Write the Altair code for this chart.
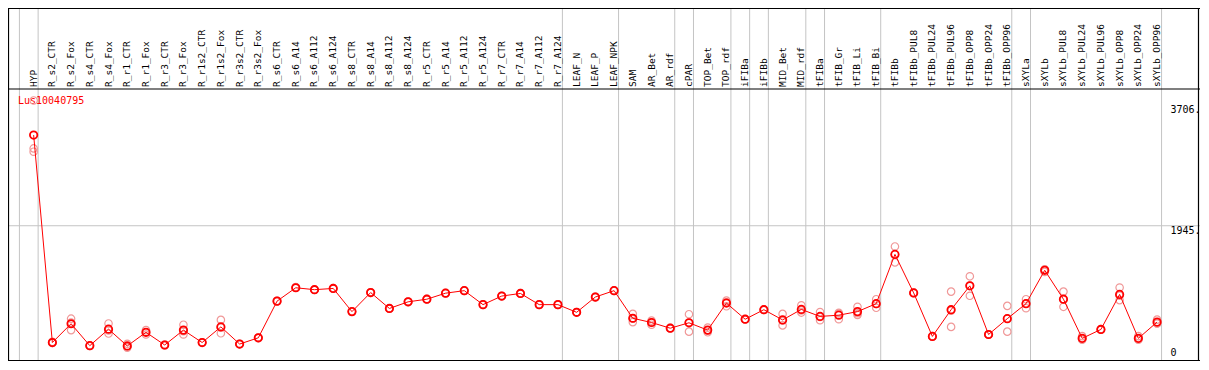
import altair as alt
import pandas as pd

# ---------------- data ----------------
gene = "Lus10040795"

names = [
    "HYP", "R_s2_CTR", "R_s2_Fox", "R_s4_CTR", "R_s4_Fox", "R_r1_CTR", "R_r1_Fox",
    "R_r3_CTR", "R_r3_Fox", "R_r1s2_CTR", "R_r1s2_Fox", "R_r3s2_CTR", "R_r3s2_Fox",
    "R_s6_CTR", "R_s6_A14", "R_s6_A112", "R_s6_A124", "R_s8_CTR", "R_s8_A14",
    "R_s8_A112", "R_s8_A124", "R_r5_CTR", "R_r5_A14", "R_r5_A112", "R_r5_A124",
    "R_r7_CTR", "R_r7_A14", "R_r7_A112", "R_r7_A124", "LEAF_N", "LEAF_P", "LEAF_NPK",
    "SAM", "AR_Bet", "AR_rdf", "cPAR", "TOP_Bet", "TOP_rdf", "iFIBa", "iFIBb",
    "MID_Bet", "MID_rdf", "tFIBa", "tFIB_Gr", "tFIB_Li", "tFIB_Bi", "tFIBb",
    "tFIBb_PUL8", "tFIBb_PUL24", "tFIBb_PUL96", "tFIBb_OPP8", "tFIBb_OPP24",
    "tFIBb_OPP96", "sXYLa", "sXYLb", "sXYLb_PUL8", "sXYLb_PUL24", "sXYLb_PUL96",
    "sXYLb_OPP8", "sXYLb_OPP24", "sXYLb_OPP96",
]

means = [
    3268, 241, 515, 195, 436, 191, 390, 205, 422, 241, 469, 219, 310,
    845, 1040, 1012, 1030, 692, 970, 738, 835, 873, 961, 998, 794,
    919, 957, 794, 794, 682, 905, 998,
    595, 533, 450, 529, 422, 817, 581, 720, 571, 724, 622, 640, 692, 808,
    1527, 965, 330, 720, 1068, 358, 589, 808, 1295, 873, 302, 432, 943, 302, 539,
]

rep1 = [
    3773, 250, 589, 190, 519, 223, 422, 210, 501, 245, 571, 222, 315,
    850, 1050, 1015, 1035, 695, 975, 742, 840, 878, 965, 1002, 798,
    923, 962, 798, 798, 686, 910, 1002,
    659, 561, 455, 654, 459, 853, 585, 724, 659, 784, 686, 664, 762, 873,
    1643, 970, 335, 984, 1207, 362, 776, 873, 1310, 984, 334, 436, 1044, 334, 575,
]
rep2 = [
    3073, 235, 534, 200, 417, 183, 390, 200, 407, 238, 460, 216, 305,
    840, 1040, 1010, 1025, 690, 965, 735, 830, 868, 958, 995, 790,
    915, 952, 790, 790, 678, 900, 994,
    587, 537, 445, 533, 417, 828, 577, 716, 563, 710, 613, 675, 669, 803,
    1528, 960, 325, 707, 1074, 354, 591, 809, 1271, 873, 288, 428, 926, 290, 521,
]
rep3 = [
    3025, 238, 422, 195, 372, 167, 358, 205, 358, 240, 376, 219, 310,
    845, 1042, 1011, 1030, 691, 970, 737, 835, 873, 960, 997, 794,
    919, 957, 794, 794, 682, 905, 998,
    539, 501, 450, 400, 390, 770, 581, 720, 491, 678, 567, 581, 645, 748,
    1410, 965, 330, 469, 923, 358, 400, 742, 1304, 762, 284, 432, 859, 282, 521,
]

# last column index of each group (vertical separators drawn just after them)
group_ends = [-1, 0, 28, 31, 34, 35, 37, 38, 39, 41, 42, 45, 52, 53, 60]

axis_values = [0, 1945, 3706]
axis_labels = ["0", "1945.", "3706."]
grid_values = [1945]

# ---------------- layout ----------------
W, H = 1192, 353
PAD_L, PAD_T, PAD_R, PAD_B = 1, 81, 38, 1
PW = W - PAD_L - PAD_R
PH = H - PAD_T - PAD_B

FONT = "DejaVu Sans Mono"
RED = "#ff0000"
REP = "#f09898"
GRID = "#c4c4c4"

xscale = alt.Scale(domain=[-1.316, 60.263], nice=False, zero=False)
yscale = alt.Scale(domain=[-13.9, 3940], nice=False, zero=False)

idx = list(range(len(names)))
df_mean = pd.DataFrame({"idx": idx, "name": names, "value": means})
df_rep = pd.DataFrame({
    "idx": idx * 3,
    "value": rep1 + rep2 + rep3,
})
df_sep = pd.DataFrame({"idx": [g + 0.24 for g in group_ends]})
df_grid = pd.DataFrame({"value": grid_values})
df_axis = pd.DataFrame({"value": axis_values, "label": axis_labels})
df_one = pd.DataFrame({"t": [gene]})

X = lambda f="idx": alt.X(f"{f}:Q", scale=xscale, axis=None)
Y = lambda f="value": alt.Y(f"{f}:Q", scale=yscale, axis=None)

sep = alt.Chart(df_sep).mark_rule(color=GRID, strokeWidth=1).encode(
    x=X(), y=alt.value(-PAD_T), y2=alt.value(PH + PAD_B)
)
hgrid = alt.Chart(df_grid).mark_rule(color=GRID, strokeWidth=1).encode(
    y=Y(), x=alt.value(-PAD_L), x2=alt.value(PW + PAD_R)
)

# frame lines
frame = []
for xv, x2v, yv, y2v in [
    (-PAD_L, PW + PAD_R, -PAD_T + 0.5, -PAD_T + 0.5),   # top
    (-PAD_L, PW + PAD_R, 0, 0),                         # under labels
    (-PAD_L, PW + PAD_R, PH + 0.5, PH + 0.5),           # bottom
    (-PAD_L + 0.5, -PAD_L + 0.5, -PAD_T, PH + PAD_B),   # left
    (PW + PAD_R - 1.5, PW + PAD_R - 1.5, -PAD_T, PH + PAD_B),  # right
]:
    frame.append(
        alt.Chart(df_one).mark_rule(color="black", strokeWidth=1.2).encode(
            x=alt.value(xv), x2=alt.value(x2v), y=alt.value(yv), y2=alt.value(y2v)
        )
    )

labels = alt.Chart(df_mean).mark_text(
    angle=270, align="left", baseline="middle", font=FONT, fontSize=9.5, color="black"
).encode(x=X(), y=alt.value(-2), text="name:N")

title = alt.Chart(df_one).mark_text(
    align="left", baseline="middle", font=FONT, fontSize=10, color=RED
).encode(x=alt.value(9), y=alt.value(11.5), text="t:N")

reps = alt.Chart(df_rep).mark_point(
    shape="circle", filled=False, color=REP, size=55, strokeWidth=1.2, opacity=1
).encode(x=X(), y=Y())

line = alt.Chart(df_mean).mark_line(color=RED, strokeWidth=1).encode(x=X(), y=Y())

pts = alt.Chart(df_mean).mark_point(
    shape="circle", filled=False, color=RED, size=55, strokeWidth=1.8, opacity=1
).encode(x=X(), y=Y())

ylab_top = alt.Chart(df_axis).transform_filter("datum.value > 0").mark_text(
    align="left", baseline="top", font=FONT, fontSize=10, color="black"
).encode(x=alt.value(PW + 8.5), y=Y(), text="label:N")
ylab_zero = alt.Chart(df_axis).transform_filter("datum.value == 0").mark_text(
    align="left", baseline="bottom", font=FONT, fontSize=10, color="black", dy=-1
).encode(x=alt.value(PW + 8.5), y=Y(), text="label:N")

chart = alt.layer(
    sep, hgrid, *frame, labels, title, reps, line, pts, ylab_top, ylab_zero
).properties(
    width=PW,
    height=PH,
    padding={"left": PAD_L, "top": PAD_T, "right": PAD_R, "bottom": PAD_B},
    autosize=alt.AutoSizeParams(type="none"),
    background="white",
).configure_view(stroke=None)

chart.save("out.html", embed_options={"renderer": "svg", "actions": False})
